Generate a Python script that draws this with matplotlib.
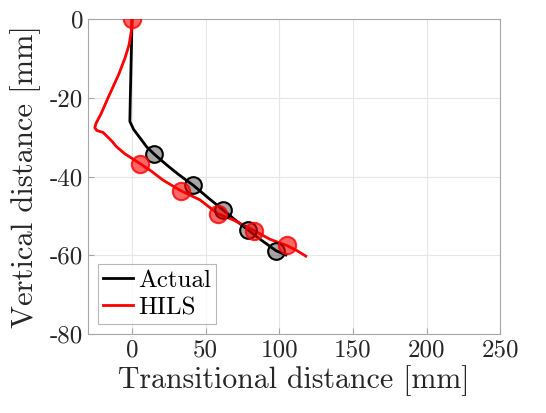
import matplotlib
matplotlib.use("Agg")
import matplotlib.pyplot as plt
import numpy as np

plt.rcParams['font.family'] = 'cmr10'
plt.rcParams['mathtext.fontset'] = 'cm'
plt.rcParams['axes.unicode_minus'] = False

# Data
actual_x = [0, -0.3, -0.6, -0.9, -1.2, -1.5, 1, 5, 10, 15, 24, 32, 41.5, 52, 61.9, 70, 78.9, 88, 97.7, 104.5]
actual_y = [0, -5, -10, -15, -20, -26, -28, -30, -32.5, -34.3, -37.2, -39.6, -42.2, -45.5, -48.5, -51, -53.6, -56.2, -58.8, -59.9]
actual_mx = [15, 41.5, 61.9, 78.9, 97.7]
actual_my = [-34.3, -42.2, -48.5, -53.6, -58.8]

hils_x = [0, -0.5, -2, -4.9, -9, -16.3, -21, -24.5, -25.3, -24, -19.7, -14, -10.6, -5, 0, 5.7, 13, 21, 33.1, 46, 58.5, 68.7, 82.7, 93.6, 105, 112, 118]
hils_y = [0, -3, -6.5, -10, -14, -20, -24, -26.5, -27.6, -28.3, -28.8, -30.9, -32.4, -34.2, -35.4, -36.8, -38.6, -40.9, -43.6, -45.9, -49.5, -51, -53.7, -55.9, -57.5, -58.8, -60.2]
hils_mx = [0, 5.7, 33.1, 58.5, 82.7, 105]
hils_my = [0, -36.8, -43.6, -49.5, -53.7, -57.5]

fig = plt.figure(figsize=(5.46, 4.13), dpi=100)
ax = fig.add_axes([0.161, 0.191, 0.755, 0.763])

ax.plot(actual_x, actual_y, color="black", lw=2, label="Actual", zorder=3)
ax.plot(hils_x, hils_y, color="red", lw=2, label="HILS", zorder=4)
ax.plot(actual_mx, actual_my, 'o', ms=12, mfc=(0, 0, 0, 0.35),
        mec="black", mew=1.5, zorder=5)
ax.plot(hils_mx, hils_my, 'o', ms=12.5, mfc=(1, 0, 0, 0.6),
        mec=(1, 0, 0, 0.8), mew=1.5, zorder=6)

ax.set_xlim(-30, 250)
ax.set_ylim(-80, 0)
ax.set_xticks([0, 50, 100, 150, 200, 250])
ax.set_yticks([-80, -60, -40, -20, 0])
ax.grid(True, color="#e6e6e6", lw=0.8)
ax.set_axisbelow(True)
for s in ax.spines.values():
    s.set_color("#a6a6a6")
ax.tick_params(direction="in", colors="#262626", labelsize=18, length=4)
ax.tick_params(axis='both', color="#a6a6a6")

ax.set_xlabel("Transitional distance [mm]", fontsize=21.5, color="#262626", labelpad=3)
ax.set_ylabel("Vertical distance [mm]", fontsize=22, color="#262626", labelpad=6)

leg = ax.legend(loc="lower left", fontsize=18, handlelength=1.2,
                handletextpad=0.2, borderpad=0.2, labelspacing=0.2,
                fancybox=False, borderaxespad=0.4)
leg.get_frame().set_edgecolor("#a6a6a6")
leg.get_frame().set_linewidth(0.8)

fig.savefig("out.png", dpi=100)
